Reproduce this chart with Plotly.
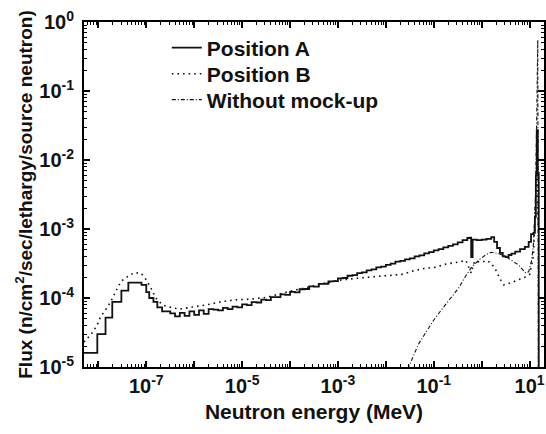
import plotly.graph_objects as go

# ---- data (energy in MeV, flux in n/cm2/sec/lethargy/source neutron) ----
pos_a_energy = [5.0e-9, 9.5e-9, 1.41e-8, 1.95e-8, 3.02e-8, 4.22e-8, 7.94e-8, 1.0e-7,
                1.15e-7, 1.41e-7, 1.70e-7, 2.14e-7, 3.16e-7, 3.98e-7, 5.01e-7, 6.31e-7,
                7.94e-7, 1.0e-6, 1.26e-6, 1.58e-6, 2.0e-6, 2.51e-6, 3.16e-6, 3.98e-6,
                5.01e-6, 6.31e-6, 7.94e-6, 1.0e-5, 1.26e-5, 1.58e-5, 2.0e-5, 2.51e-5,
                3.16e-5, 3.98e-5, 5.01e-5, 6.31e-5, 7.94e-5, 1.0e-4, 1.26e-4, 1.58e-4,
                2.0e-4, 2.51e-4, 3.16e-4, 3.98e-4, 5.01e-4, 6.31e-4, 7.94e-4, 1.0e-3,
                1.26e-3, 1.58e-3, 2.0e-3, 2.51e-3, 3.16e-3, 3.98e-3, 5.01e-3, 6.31e-3,
                7.94e-3, 1.0e-2, 1.26e-2, 1.58e-2, 2.0e-2, 2.51e-2, 3.16e-2, 3.98e-2,
                5.01e-2, 6.31e-2, 7.94e-2, 0.1, 0.126, 0.158, 0.2, 0.251, 0.316, 0.398,
                0.501, 0.562, 0.603, 0.646, 0.794, 1.0, 1.26, 1.58, 1.82, 2.09, 2.40,
                2.75, 3.16, 3.63, 4.17, 5.01, 6.31, 7.94, 9.55, 10.7, 12.0, 12.9, 13.5,
                14.1, 14.8, 15.5]
pos_a_flux = [1.6e-5, 3.0e-5, 5.2e-5, 8.8e-5, 1.28e-4, 1.67e-4, 1.55e-4, 1.22e-4,
              1.0e-4, 8.8e-5, 7.3e-5, 6.4e-5, 6.0e-5, 5.4e-5, 6.1e-5, 5.5e-5,
              6.4e-5, 5.7e-5, 6.6e-5, 5.9e-5, 6.9e-5, 6.8e-5, 6.6e-5, 7.2e-5,
              6.9e-5, 7.5e-5, 7.3e-5, 8.1e-5, 7.9e-5, 8.7e-5, 8.6e-5, 9.5e-5,
              9.3e-5, 1.03e-4, 1.03e-4, 1.13e-4, 1.11e-4, 1.23e-4, 1.21e-4, 1.34e-4,
              1.35e-4, 1.47e-4, 1.46e-4, 1.60e-4, 1.61e-4, 1.74e-4, 1.76e-4, 1.92e-4,
              1.95e-4, 2.10e-4, 2.15e-4, 2.30e-4, 2.35e-4, 2.52e-4, 2.60e-4, 2.78e-4,
              2.85e-4, 3.02e-4, 3.14e-4, 3.36e-4, 3.45e-4, 3.62e-4, 3.76e-4, 4.02e-4,
              4.16e-4, 4.44e-4, 4.62e-4, 4.9e-4, 5.1e-4, 5.4e-4, 5.7e-4, 6.0e-4, 6.4e-4,
              6.9e-4, 7.4e-4, 7.5e-4, 3.9e-4, 7.0e-4, 6.9e-4, 7.0e-4, 7.2e-4, 7.6e-4,
              6.5e-4, 5.3e-4, 4.5e-4, 4.0e-4, 3.9e-4, 4.2e-4, 4.4e-4, 4.7e-4, 5.1e-4,
              5.5e-4, 6.5e-4, 8.4e-4, 8.8e-4, 1.5e-3, 6.0e-3, 2.7e-2, 6.5e-3, 1.0e-6]

pos_b_energy = [5.0e-9, 7.4e-9, 9.5e-9, 1.12e-8, 1.41e-8, 1.82e-8, 2.29e-8, 2.95e-8,
                4.07e-8, 5.62e-8, 7.76e-8, 9.77e-8, 1.26e-7, 1.58e-7, 2.19e-7, 3.02e-7,
                4.90e-7, 9.12e-7, 1.74e-6, 3.89e-6, 7.41e-6, 1.41e-5, 3.16e-5, 1.0e-4,
                3.16e-4, 1.0e-3, 2.75e-3, 1.0e-2, 2.14e-2, 3.98e-2, 6.76e-2, 0.112,
                0.178, 0.316, 0.468, 0.603, 0.708, 1.0, 1.26, 1.58, 2.0, 2.40, 2.88,
                3.98, 5.62, 7.94, 10.0, 12.0, 13.2, 14.1, 15.1]
pos_b_flux = [2.3e-5, 3.1e-5, 4.1e-5, 5.4e-5, 6.7e-5, 8.9e-5, 1.23e-4, 1.73e-4,
              2.04e-4, 2.33e-4, 2.28e-4, 1.87e-4, 1.38e-4, 1.0e-4, 7.9e-5, 7.4e-5,
              6.9e-5, 7.4e-5, 7.9e-5, 8.9e-5, 9.4e-5, 9.6e-5, 1.02e-4, 1.25e-4,
              1.5e-4, 1.8e-4, 1.95e-4, 2.1e-4, 2.2e-4, 2.5e-4, 2.7e-4, 2.8e-4,
              3.1e-4, 3.3e-4, 3.5e-4, 2.3e-4, 3.4e-4, 3.3e-4, 3.5e-4, 3.2e-4, 2.5e-4,
              1.9e-4, 1.55e-4, 1.65e-4, 1.8e-4, 2.0e-4, 2.2e-4, 4.0e-4, 2.0e-3,
              1.0e-2, 1.0e-3]

mock_energy = [2.5e-2, 3.0e-2, 3.98e-2, 4.9e-2, 7.08e-2, 0.1, 0.141, 0.204, 0.331,
               0.447, 0.617, 0.891, 1.26, 1.58, 2.24, 3.16, 4.47, 5.89, 7.08, 8.32,
               9.55, 11.0, 12.0, 13.2, 14.1, 14.8, 15.3]
mock_flux = [7.0e-6, 1.0e-5, 1.6e-5, 2.2e-5, 3.3e-5, 4.8e-5, 6.6e-5, 9.3e-5, 1.4e-4,
             2.0e-4, 2.8e-4, 3.6e-4, 4.3e-4, 4.6e-4, 4.4e-4, 4.0e-4, 3.4e-4, 3.0e-4,
             2.6e-4, 2.3e-4, 2.4e-4, 3.5e-4, 6.0e-4, 3.0e-3, 5.0e-2, 0.55, 1.0e-6]

series_names = ["Position A", "Position B", "Without mock-up"]

x_tick_exponents = [-8, -7, -6, -5, -4, -3, -2, -1, 0, 1]
x_tick_labels = ["" if e % 2 == 0 else f"10<sup>{e}</sup>" for e in x_tick_exponents]
y_tick_exponents = [-5, -4, -3, -2, -1, 0]
y_tick_labels = [f"10<sup>{e}</sup>" for e in y_tick_exponents]

FONT = "Liberation Sans"
INK = "#111111"

fig = go.Figure()
fig.add_trace(go.Scatter(x=pos_a_energy, y=pos_a_flux, mode="lines", name=series_names[0],
                         line=dict(color=INK, width=1.8, shape="hv"), legend="legend"))
fig.add_trace(go.Scatter(x=pos_b_energy, y=pos_b_flux, mode="lines", name=series_names[1],
                         line=dict(color=INK, width=1.6, dash="1.6px,4px"), legend="legend2"))
fig.add_trace(go.Scatter(x=mock_energy, y=mock_flux, mode="lines", name=series_names[2],
                         line=dict(color=INK, width=1.1, dash="4px,2px,1px,2px"), legend="legend3"))

minor_x = [d * 10.0 ** e for e in range(-9, 2) for d in range(2, 10)]
minor_y = [d * 10.0 ** e for e in range(-6, 0) for d in range(2, 10)]

axis_common = dict(showline=True, linewidth=2, linecolor="black", mirror="allticks",
                   ticks="inside", ticklen=6, tickwidth=1.5, tickcolor="black",
                   showgrid=False, zeroline=False, automargin=False,
                   tickfont=dict(family=FONT, size=20, color=INK, weight="bold"))

fig.update_xaxes(type="log", range=[-8.3, 1.3],
                 tickmode="array", tickvals=[10.0 ** e for e in x_tick_exponents],
                 ticktext=x_tick_labels,
                 minor=dict(tickmode="array", tickvals=minor_x, ticks="inside", ticklen=3,
                            tickwidth=1, tickcolor="black", showgrid=False),
                 title=dict(text="Neutron energy (MeV)", standoff=8,
                            font=dict(family=FONT, size=21, color=INK, weight="bold")),
                 **axis_common)
fig.update_yaxes(type="log", range=[-5, 0],
                 tickmode="array", tickvals=[10.0 ** e for e in y_tick_exponents],
                 ticktext=y_tick_labels, ticklabelstandoff=4,
                 minor=dict(tickmode="array", tickvals=minor_y, ticks="inside", ticklen=3,
                            tickwidth=1, tickcolor="black", showgrid=False),
                 title=dict(text="Flux (n/cm<sup>2</sup>/sec/lethargy/source neutron)", standoff=2,
                            font=dict(family=FONT, size=19, color=INK, weight="bold")),
                 **axis_common)

legend_common = dict(x=0.18, xanchor="left", yanchor="middle",
                     bgcolor="rgba(0,0,0,0)", borderwidth=0,
                     font=dict(family=FONT, size=21, color=INK, weight="bold"))

fig.update_layout(
    width=546, height=434,
    margin=dict(l=84, r=2, t=22, b=67),
    paper_bgcolor="white", plot_bgcolor="white",
    showlegend=True,
    legend=dict(y=0.925, **legend_common),
    legend2=dict(y=0.849, **legend_common),
    legend3=dict(y=0.774, **legend_common),
)

# remove the default page margin so the figure sits at the window's top-left corner
fig.write_html("out.html", config={"displayModeBar": False},
               post_script="document.body.style.margin='0px';document.body.style.overflow='hidden';")
